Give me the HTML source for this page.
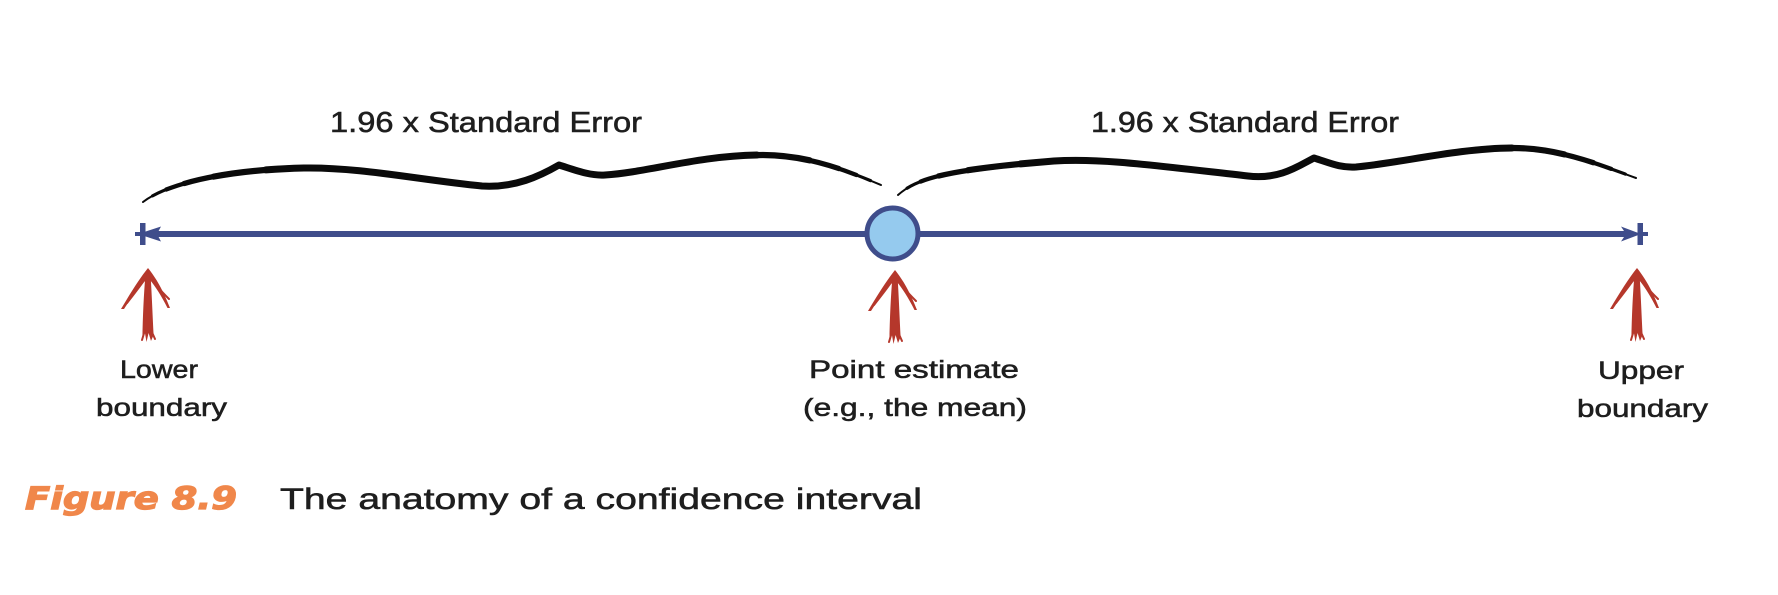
<!DOCTYPE html>
<html>
<head>
<meta charset="utf-8">
<style>
  html, body { margin: 0; padding: 0; background: #ffffff; }
  body { width: 1778px; height: 595px; overflow: hidden; }
  svg { display: block; }
  .t { font-family: "Liberation Sans", "DejaVu Sans", sans-serif; fill: #1e1e1e; stroke: #1e1e1e; stroke-width: 0.55; }
</style>
</head>
<body>
<svg width="1778" height="595" viewBox="0 0 1778 595" xmlns="http://www.w3.org/2000/svg">
  <defs>
    <path id="lbr" d="M143,202 C165,185 220,170 304,168 C360,167 420,180 482,186 C515,188 540,176 559,165 C575,170 590,176 605,175 C650,172 700,155 763,155 C810,155 850,172 881,185"/>
    <path id="rbr" d="M898,195 C915,180 940,170 1054,161 C1100,158 1150,165 1248,176 C1280,180 1300,165 1314,158 C1330,163 1340,168 1356,167 C1400,163 1460,148 1513,148 C1560,148 1600,165 1636,178"/>
  </defs>
  <rect width="1778" height="595" fill="#ffffff"/>

  <!-- Top labels -->
  <text class="t" x="330" y="132" font-size="28.5" textLength="312" lengthAdjust="spacingAndGlyphs">1.96 x Standard Error</text>
  <text class="t" x="1091" y="132" font-size="28.5" textLength="308" lengthAdjust="spacingAndGlyphs">1.96 x Standard Error</text>

  <!-- Braces (brush strokes, tapered by layered widths) -->
  <g fill="none" stroke="#0a0a0a" stroke-linecap="round" stroke-linejoin="round">
    <g>
      <path d="M143,202 C165,185 220,170 304,168 C360,167 420,180 482,186 C515,188 540,176 559,165 C575,170 590,176 605,175 C650,172 700,155 763,155 C810,155 850,172 881,185" stroke-width="2"/>
      <path d="M143,202 C165,185 220,170 304,168 C360,167 420,180 482,186 C515,188 540,176 559,165 C575,170 590,176 605,175 C650,172 700,155 763,155 C810,155 850,172 881,185" pathLength="100" stroke-width="3.2" stroke-dasharray="97 300" stroke-dashoffset="-1.5"/>
      <path d="M143,202 C165,185 220,170 304,168 C360,167 420,180 482,186 C515,188 540,176 559,165 C575,170 590,176 605,175 C650,172 700,155 763,155 C810,155 850,172 881,185" pathLength="100" stroke-width="4.3" stroke-dasharray="93 300" stroke-dashoffset="-3.5"/>
      <path d="M143,202 C165,185 220,170 304,168 C360,167 420,180 482,186 C515,188 540,176 559,165 C575,170 590,176 605,175 C650,172 700,155 763,155 C810,155 850,172 881,185" pathLength="100" stroke-width="5.3" stroke-dasharray="88 300" stroke-dashoffset="-6"/>
      <path d="M143,202 C165,185 220,170 304,168 C360,167 420,180 482,186 C515,188 540,176 559,165 C575,170 590,176 605,175 C650,172 700,155 763,155 C810,155 850,172 881,185" pathLength="100" stroke-width="6.2" stroke-dasharray="80 300" stroke-dashoffset="-10"/>
      <path d="M143,202 C165,185 220,170 304,168 C360,167 420,180 482,186 C515,188 540,176 559,165 C575,170 590,176 605,175 C650,172 700,155 763,155 C810,155 850,172 881,185" pathLength="100" stroke-width="7" stroke-dasharray="66 300" stroke-dashoffset="-17"/>
    </g>
    <g>
      <path d="M898,195 C915,180 940,170 1054,161 C1100,158 1150,165 1248,176 C1280,180 1300,165 1314,158 C1330,163 1340,168 1356,167 C1400,163 1460,148 1513,148 C1560,148 1600,165 1636,178" stroke-width="2"/>
      <path d="M898,195 C915,180 940,170 1054,161 C1100,158 1150,165 1248,176 C1280,180 1300,165 1314,158 C1330,163 1340,168 1356,167 C1400,163 1460,148 1513,148 C1560,148 1600,165 1636,178" pathLength="100" stroke-width="3.2" stroke-dasharray="97 300" stroke-dashoffset="-1.5"/>
      <path d="M898,195 C915,180 940,170 1054,161 C1100,158 1150,165 1248,176 C1280,180 1300,165 1314,158 C1330,163 1340,168 1356,167 C1400,163 1460,148 1513,148 C1560,148 1600,165 1636,178" pathLength="100" stroke-width="4.3" stroke-dasharray="93 300" stroke-dashoffset="-3.5"/>
      <path d="M898,195 C915,180 940,170 1054,161 C1100,158 1150,165 1248,176 C1280,180 1300,165 1314,158 C1330,163 1340,168 1356,167 C1400,163 1460,148 1513,148 C1560,148 1600,165 1636,178" pathLength="100" stroke-width="5.3" stroke-dasharray="88 300" stroke-dashoffset="-6"/>
      <path d="M898,195 C915,180 940,170 1054,161 C1100,158 1150,165 1248,176 C1280,180 1300,165 1314,158 C1330,163 1340,168 1356,167 C1400,163 1460,148 1513,148 C1560,148 1600,165 1636,178" pathLength="100" stroke-width="6.2" stroke-dasharray="80 300" stroke-dashoffset="-10"/>
      <path d="M898,195 C915,180 940,170 1054,161 C1100,158 1150,165 1248,176 C1280,180 1300,165 1314,158 C1330,163 1340,168 1356,167 C1400,163 1460,148 1513,148 C1560,148 1600,165 1636,178" pathLength="100" stroke-width="7" stroke-dasharray="66 300" stroke-dashoffset="-17"/>
    </g>
  </g>

  <!-- Blue axis line -->
  <g fill="#3f4d8b" stroke="none">
    <rect x="150" y="231" width="1478" height="6"/>
    <!-- left tick + arrowhead -->
    <rect x="140" y="223" width="5.5" height="22"/>
    <rect x="135" y="232" width="8" height="4"/>
    <polygon points="138,234 161,226.5 157,234 161,241.5"/>
    <!-- right tick + arrowhead -->
    <rect x="1637.5" y="223" width="5.5" height="22"/>
    <rect x="1640" y="232" width="8" height="4"/>
    <polygon points="1641,234 1621,226.5 1626,234 1621,241.5"/>
  </g>

  <!-- Point estimate circle -->
  <circle cx="892.5" cy="233.5" r="25.5" fill="#95caee" stroke="#3f4d8b" stroke-width="5"/>

  <!-- Red hand-drawn arrows -->
  <defs>
    <g id="redarrow">
      <g fill="#b5372b" stroke="none">
        <!-- shaft -->
        <path d="M-2.5,6 C-4.2,26 -5.2,48 -5.6,70 L-3.4,63 L-1.5,74 L0.6,65 L3,73 L5.6,67 C4.6,48 3.8,26 2.5,6 Z"/>
        <!-- tip -->
        <path d="M0,0 L-5,13 L5,13 Z"/>
        <!-- left barb -->
        <path d="M0,0 C-8,10 -17,24 -27,41 L-24,41 C-16,29 -9,19 -2,12 Z"/>
        <!-- right barb -->
        <path d="M0,0 C8,10 15,22 22,40 L19.5,40 C13,27 7,18 2,12 Z"/>
      </g>
      <g fill="none" stroke="#b5372b" stroke-width="2" stroke-linecap="round">
        <path d="M-3,11 C-9,20 -15,27 -21,35"/>
        <path d="M3,11 C9,19 15,25 21,31"/>
        <path d="M-3,62 L-6,72"/>
        <path d="M3,62 L7,71"/>
      </g>
    </g>
  </defs>
  <use href="#redarrow" x="148" y="268"/>
  <use href="#redarrow" x="895" y="270"/>
  <use href="#redarrow" x="1637" y="268"/>

  <!-- Bottom labels -->
  <text class="t" x="120" y="378" font-size="25" textLength="78" lengthAdjust="spacingAndGlyphs">Lower</text>
  <text class="t" x="96" y="416" font-size="25" textLength="131" lengthAdjust="spacingAndGlyphs">boundary</text>

  <text class="t" x="809" y="378" font-size="25" textLength="210" lengthAdjust="spacingAndGlyphs">Point estimate</text>
  <text class="t" x="803" y="416" font-size="25" textLength="224" lengthAdjust="spacingAndGlyphs">(e.g., the mean)</text>

  <text class="t" x="1598" y="379" font-size="25" textLength="86" lengthAdjust="spacingAndGlyphs">Upper</text>
  <text class="t" x="1577" y="417" font-size="25" textLength="131" lengthAdjust="spacingAndGlyphs">boundary</text>

  <!-- Caption -->
  <text x="25" y="509" font-family="'DejaVu Sans', 'Liberation Sans', sans-serif" font-size="31" font-weight="bold" font-style="italic" fill="#f0874a" stroke="#f0874a" stroke-width="1.2" textLength="212" lengthAdjust="spacingAndGlyphs">Figure 8.9</text>
  <text class="t" x="280" y="509" font-size="29.5" textLength="642" lengthAdjust="spacingAndGlyphs">The anatomy of a confidence interval</text>
</svg>
</body>
</html>
